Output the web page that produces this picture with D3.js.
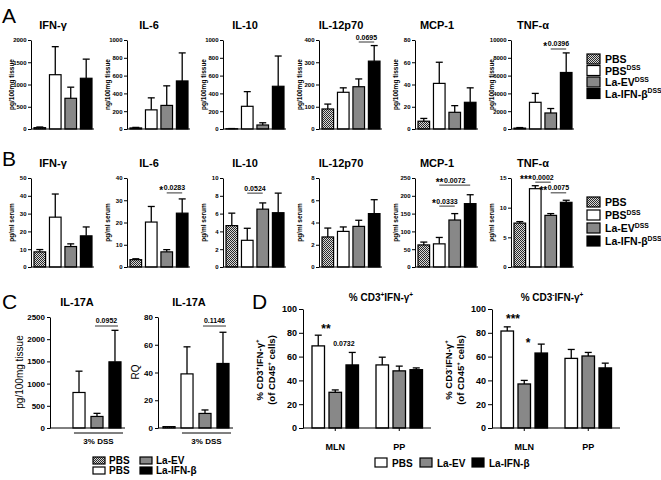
<!DOCTYPE html>
<html><head><meta charset="utf-8">
<script src="https://cdn.jsdelivr.net/npm/d3@7"></script>
<style>body{margin:0;background:#fff}svg{display:block}text{font-family:"Liberation Sans",Arial,sans-serif;-webkit-font-smoothing:antialiased}</style>
</head><body><svg id="c" width="661" height="480"></svg>
<script>
// ---------------- DATA ----------------
const groupsAB = ["PBS", "PBS DSS", "La-EV DSS", "La-IFN-β DSS"];
const legendAB = [["PBS", ""], ["PBS", "DSS"], ["La-EV", "DSS"], ["La-IFN-β", "DSS"]];
const cytokines = ["IFN-γ", "IL-6", "IL-10", "IL-12p70", "MCP-1", "TNF-α"];
const tissueUnits = ["pg/100mg tissue", "ng/100mg tissue", "pg/100mg tissue", "pg/100mg tissue", "pg/100mg tissue", "pg/100mg tissue"];
const tissueMeans = [[30, 1220, 690, 1140], [12, 215, 265, 540], [3, 255, 45, 480], [90, 165, 190, 305], [7, 41, 15, 24], [100, 3000, 1800, 6350]];
const tissueErrs = [[15, 630, 250, 430], [6, 135, 220, 315], [2, 165, 25, 340], [22, 20, 35, 70], [2.5, 19, 6, 13], [60, 1000, 500, 2200]];
const tissueMax = [2000, 1000, 1000, 400, 80, 10000];
const tissueStep = [500, 200, 200, 100, 20, 2000];
const serumUnit = "pg/ml serum";
const serumMeans = [[8.5, 28, 11.5, 17.5], [3.3, 20.2, 6.8, 24.2], [4.65, 3.0, 6.5, 6.1], [2.7, 3.2, 3.65, 4.8], [62, 65, 132, 178], [7.4, 13.2, 8.7, 10.9]];
const serumErrs = [[1.3, 13, 1.5, 5], [0.4, 7, 1, 6.4], [1.4, 1.35, 0.7, 2.2], [0.8, 0.4, 0.55, 1.25], [8, 18, 18, 25], [0.25, 0.5, 0.3, 0.35]];
const serumMax = [50, 40, 10, 8, 250, 15];
const serumStep = [10, 10, 2, 2, 50, 5];
const annotA = [
  {p: 3, i: 2, j: 3, level: 391, stars: "", text: "0.0695"},
  {p: 5, i: 2, j: 3, level: 8990, stars: "*", text: "0.0396"}
];
const annotB = [
  {p: 1, i: 2, j: 3, level: 33.3, stars: "*", text: "0.0283"},
  {p: 2, i: 1, j: 2, level: 8.3, stars: "", text: "0.0524"},
  {p: 4, i: 1, j: 3, level: 230, stars: "**", text: "0.0072"},
  {p: 4, i: 1, j: 2, level: 171, stars: "*", text: "0.0333"},
  {p: 5, i: 1, j: 2, level: 14.3, stars: "***", text: "0.0002"},
  {p: 5, i: 2, j: 3, level: 12.5, stars: "**", text: "0.0075"}
];
// Panel C
const titlesC = ["IL-17A", "IL-17A"];
const unitsC = ["pg/100mg tissue", "RQ"];
const meansC = [[0, 800, 260, 1490], [1, 39, 10.5, 46.5]];
const errsC = [[0, 480, 70, 710], [0.3, 19.5, 2.5, 22.5]];
const maxC = [2500, 80];
const stepC = [500, 20];
const annotC = [{s: 0, i: 2, j: 3, level: 2297, text: "0.0952"}, {s: 1, i: 2, j: 3, level: 73.5, text: "0.1146"}];
const dssLabel = "3% DSS";
const legendC = ["PBS", "PBS", "La-EV", "La-IFN-β"];
// Panel D
const sitesD = ["MLN", "PP"];
const seriesD = ["PBS", "La-EV", "La-IFN-β"];
const meansD = [[[69, 30, 53], [53, 48, 49]], [[81.5, 37, 63], [58.5, 60.5, 50.5]]];
const errsD = [[[9, 2, 10.5], [6.5, 4, 1.5]], [[3.5, 3, 7.5], [7.5, 3, 4]]];
const ticksD = [0, 20, 40, 60, 80, 100];
const annotD = [
  {s: 0, g: 0, b: 0.45, level: 80, text: "**", star: true},
  {s: 0, g: 0, b: 1.51, level: 69.3, text: "0.0732", star: false},
  {s: 1, g: 0, b: 0.34, level: 88.2, text: "***", star: true},
  {s: 1, g: 0, b: 1.22, level: 68, text: "*", star: true}
];

// ---------------- DRAW ----------------
const FONT = '"Liberation Sans", Arial, sans-serif';
const fmt = d3.format("d");
const svg = d3.select("#c");
const defs = svg.append("defs");
const pat = defs.append("pattern").attr("id", "hatch").attr("width", 2).attr("height", 2).attr("patternUnits", "userSpaceOnUse");
pat.append("rect").attr("width", 2).attr("height", 2).attr("fill", "#d8d8d8");
pat.append("rect").attr("width", 1).attr("height", 1).attr("fill", "#2a2a2a");
pat.append("rect").attr("x", 1).attr("y", 1).attr("width", 1).attr("height", 1).attr("fill", "#2a2a2a");
const fills4 = ["url(#hatch)", "#fff", "#888", "#000"];
const fillsD = ["#fff", "#888", "#000"];

function rich(t, segs, fs) {
  let shift = 0;
  segs.forEach(([s, sup]) => {
    const target = sup ? -fs * 0.4 : 0;
    t.append("tspan").attr("dy", target - shift).attr("font-size", sup ? fs * 0.65 : fs).text(s);
    shift = target;
  });
}

function styleAxis(g, fs) {
  g.attr("font-family", FONT).attr("font-size", fs).attr("font-weight", "bold");
  g.select(".domain").attr("stroke", "#000").attr("stroke-width", 1);
  g.selectAll(".tick line").attr("stroke", "#000");
  g.selectAll(".tick text").attr("fill", "#000");
}

function errBars(g, data, xc, y, cap) {
  data.forEach(d => {
    const cx = xc(d);
    g.append("line").attr("x1", cx).attr("x2", cx).attr("y1", y(d.m)).attr("y2", y(d.m + d.e)).attr("stroke", "#000").attr("stroke-width", 1.3);
    g.append("line").attr("x1", cx - cap).attr("x2", cx + cap).attr("y1", y(d.m + d.e)).attr("y2", y(d.m + d.e)).attr("stroke", "#000").attr("stroke-width", 1.3);
  });
}

// Panels A and B
function smallPanel(x0, yTop, yBot, max, step, means, errs, title, titleY, unit) {
  const g = svg.append("g");
  const y = d3.scaleLinear().domain([0, max]).range([yBot, yTop]);
  const x = d3.scaleBand().domain(groupsAB).range([x0 + 3, x0 + 61]).paddingInner(0.25).paddingOuter(0);
  const data = groupsAB.map((k, i) => ({k, i, m: means[i], e: errs[i]}));
  g.selectAll("rect.bar").data(data).join("rect").attr("class", "bar")
    .attr("x", d => x(d.k)).attr("width", x.bandwidth())
    .attr("y", d => y(d.m)).attr("height", d => y(0) - y(d.m))
    .attr("fill", d => fills4[d.i]).attr("stroke", "#000").attr("stroke-width", 1.2);
  errBars(g, data, d => x(d.k) + x.bandwidth() / 2, y, 3.5);
  const ax = g.append("g").attr("transform", `translate(${x0},0)`)
    .call(d3.axisLeft(y).tickValues(d3.range(0, max + step / 2, step)).tickFormat(fmt).tickSize(3).tickSizeOuter(0).tickPadding(1.5));
  styleAxis(ax, 6);
  g.append("line").attr("x1", x0).attr("x2", x0 + 63).attr("y1", y(0)).attr("y2", y(0)).attr("stroke", "#000").attr("stroke-width", 1);
  g.append("text").attr("x", x0 + 22).attr("y", titleY).attr("text-anchor", "middle")
    .attr("font-size", 11).attr("font-weight", "bold").text(title);
  g.append("text").attr("transform", `translate(${x0 - 17},${(yTop + yBot) / 2}) rotate(-90)`)
    .attr("text-anchor", "middle").attr("font-size", 6.5).attr("font-weight", "bold").text(unit);
  return {x, y};
}

function annotate(pan, a) {
  const g = svg.append("g");
  const x1 = pan.x(groupsAB[a.i]) + pan.x.bandwidth() / 2;
  const x2 = pan.x(groupsAB[a.j]) + pan.x.bandwidth() / 2;
  const ly = pan.y(a.level);
  g.append("line").attr("x1", x1).attr("x2", x2).attr("y1", ly).attr("y2", ly).attr("stroke", "#000").attr("stroke-width", 0.8);
  const t = g.append("text").attr("x", (x1 + x2) / 2).attr("y", ly - 2.5).attr("text-anchor", "middle")
    .attr("font-size", 7).attr("font-weight", "bold").text(a.text);
  if (a.stars) {
    const w = t.node().getComputedTextLength();
    g.append("text").attr("x", (x1 + x2) / 2 - w / 2 - 0.5).attr("y", ly + 1).attr("text-anchor", "end")
      .attr("font-size", 10).attr("font-weight", "bold").text(a.stars);
  }
}

function legendAB_(x, y0, dy) {
  legendAB.forEach(([lab, sup], i) => {
    const yy = y0 + i * dy;
    svg.append("rect").attr("x", x).attr("y", yy - 5).attr("width", 13).attr("height", 10)
      .attr("fill", fills4[i]).attr("stroke", "#000").attr("stroke-width", 1.2);
    const t = svg.append("text").attr("x", x + 18).attr("y", yy + 4).attr("font-weight", "bold");
    rich(t, sup ? [[lab, 0], [sup, 1]] : [[lab, 0]], 10.5);
  });
}

const panX = d3.range(6).map(i => 31 + 96 * i);
const panA = cytokines.map((c, i) => smallPanel(panX[i], 40, 129, tissueMax[i], tissueStep[i], tissueMeans[i], tissueErrs[i], c, 29, tissueUnits[i]));
const panB = cytokines.map((c, i) => smallPanel(panX[i], 178, 267, serumMax[i], serumStep[i], serumMeans[i], serumErrs[i], c, 167, serumUnit));
annotA.forEach(a => annotate(panA[a.p], a));
annotB.forEach(a => annotate(panB[a.p], a));
legendAB_(587, 59, 11.5);
legendAB_(587, 202, 13);

// Panel letters
[["A", 2, 23], ["B", 2, 166], ["C", 2, 309], ["D", 252, 309]].forEach(([l, x, y]) =>
  svg.append("text").attr("x", x).attr("y", y).attr("font-size", 21).text(l));

// Panel C
const cX = [50, 158];
const cLabelOff = [27, 19];
const panC = [0, 1].map(s => {
  const x0 = cX[s];
  const g = svg.append("g");
  const y = d3.scaleLinear().domain([0, maxC[s]]).range([428, 317]);
  const x = d3.scaleBand().domain(groupsAB).range([x0 + 5, x0 + 71]).paddingInner(0.33).paddingOuter(0);
  const data = groupsAB.map((k, i) => ({k, i, m: meansC[s][i], e: errsC[s][i]}));
  g.selectAll("rect").data(data.filter(d => d.m > 0)).join("rect")
    .attr("x", d => x(d.k)).attr("width", x.bandwidth())
    .attr("y", d => y(d.m)).attr("height", d => y(0) - y(d.m))
    .attr("fill", d => fills4[d.i]).attr("stroke", "#000").attr("stroke-width", 1.2);
  errBars(g, data.filter(d => d.e > 0 && d.m > 2), d => x(d.k) + x.bandwidth() / 2, y, 3.5);
  const ax = g.append("g").attr("transform", `translate(${x0},0)`)
    .call(d3.axisLeft(y).tickValues(d3.range(0, maxC[s] + stepC[s] / 2, stepC[s])).tickFormat(fmt).tickSize(3).tickSizeOuter(0).tickPadding(2));
  styleAxis(ax, 8);
  g.append("line").attr("x1", x0).attr("x2", x0 + 75).attr("y1", y(0)).attr("y2", y(0)).attr("stroke", "#000");
  // 3% DSS bracket
  const bx1 = x(groupsAB[1]) + 1, bx2 = x(groupsAB[3]) + x.bandwidth() + 2;
  g.append("line").attr("x1", bx1).attr("x2", bx2).attr("y1", 433).attr("y2", 433).attr("stroke", "#000").attr("stroke-width", 1);
  g.append("text").attr("x", (bx1 + bx2) / 2).attr("y", 444).attr("text-anchor", "middle")
    .attr("font-size", 8).attr("font-weight", "bold").text(dssLabel);
  g.append("text").attr("x", [77, 189][s]).attr("y", 306).attr("text-anchor", "middle")
    .attr("font-size", 11).attr("font-weight", "bold").text(titlesC[s]);
  g.append("text").attr("transform", `translate(${x0 - cLabelOff[s]},${372}) rotate(-90)`)
    .attr("text-anchor", "middle").attr("font-size", 10).text(unitsC[s]);
  return {x, y};
});
annotC.forEach(a => {
  const p = panC[a.s];
  const x1 = p.x(groupsAB[a.i]) + p.x.bandwidth() / 2 - 2;
  const x2 = p.x(groupsAB[a.j]) + p.x.bandwidth() / 2 + 3;
  const ly = p.y(a.level);
  svg.append("line").attr("x1", x1).attr("x2", x2).attr("y1", ly).attr("y2", ly).attr("stroke", "#000").attr("stroke-width", 0.8);
  svg.append("text").attr("x", (x1 + x2) / 2).attr("y", ly - 3).attr("text-anchor", "middle")
    .attr("font-size", 7).attr("font-weight", "bold").text(a.text);
});
// Legend C
legendC.forEach((lab, i) => {
  const col = Math.floor(i / 2), row = i % 2;
  const bx = 93 + col * 47, by = 457 + row * 10;
  svg.append("rect").attr("x", bx).attr("y", by).attr("width", 12).attr("height", 7)
    .attr("fill", fills4[i]).attr("stroke", "#000").attr("stroke-width", 1.2);
  svg.append("text").attr("x", bx + 16).attr("y", by + 7).attr("font-size", 10).attr("font-weight", "bold").text(lab);
});

// Panel D
const dX = [303, 492];
const titleD = [[["% CD3", 0], ["+", 1], ["IFN-γ", 0], ["+", 1]], [["% CD3", 0], ["-", 1], ["IFN-γ", 0], ["+", 1]]];
const titleDX = [381, 552];
const panD = [0, 1].map(s => {
  const x0 = dX[s];
  const g = svg.append("g");
  const y = d3.scaleLinear().domain([0, 100]).range([428, 309]);
  const outer = d3.scaleBand().domain(sitesD).range([x0 + 9, x0 + 9 + 128]).paddingInner(0).paddingOuter(0);
  const inner = d3.scaleBand().domain(seriesD).range([0, 46.5]).paddingInner(0.265).paddingOuter(0);
  const data = [];
  sitesD.forEach((site, gi) => seriesD.forEach((ser, si) => data.push({site, ser, si, m: meansD[s][gi][si], e: errsD[s][gi][si]})));
  g.selectAll("rect").data(data).join("rect")
    .attr("x", d => outer(d.site) + inner(d.ser)).attr("width", inner.bandwidth())
    .attr("y", d => y(d.m)).attr("height", d => y(0) - y(d.m))
    .attr("fill", d => fillsD[d.si]).attr("stroke", "#000").attr("stroke-width", 1.3);
  errBars(g, data, d => outer(d.site) + inner(d.ser) + inner.bandwidth() / 2, y, 3.5);
  const ax = g.append("g").attr("transform", `translate(${x0},0)`)
    .call(d3.axisLeft(y).tickValues(ticksD).tickFormat(fmt).tickSize(4).tickSizeOuter(0).tickPadding(2));
  styleAxis(ax, 9);
  g.append("line").attr("x1", x0).attr("x2", x0 + 128).attr("y1", y(0)).attr("y2", y(0)).attr("stroke", "#000").attr("stroke-width", 1.2);
  sitesD.forEach(site => {
    const cx = outer(site) + 23.25;
    g.append("line").attr("x1", cx).attr("x2", cx).attr("y1", y(0)).attr("y2", y(0) + 3).attr("stroke", "#000");
    g.append("text").attr("x", cx).attr("y", 450).attr("text-anchor", "middle").attr("font-size", 9).attr("font-weight", "bold").text(site);
  });
  const tt = g.append("text").attr("x", titleDX[s]).attr("y", 301).attr("text-anchor", "middle").attr("font-weight", "bold");
  rich(tt, titleD[s], 10);
  const l1 = g.append("text").attr("transform", `translate(${x0 - 40},${370}) rotate(-90)`).attr("text-anchor", "middle").attr("font-weight", "bold");
  rich(l1, titleD[s], 9.5);
  const l2 = g.append("text").attr("transform", `translate(${x0 - 28},${370}) rotate(-90)`).attr("text-anchor", "middle").attr("font-weight", "bold");
  rich(l2, [["(of CD45", 0], ["+", 1], [" cells)", 0]], 9.5);
  return {outer, inner, y};
});
annotD.forEach(a => {
  const p = panD[a.s];
  const cx = p.outer(sitesD[a.g]) + p.inner.step() * a.b + p.inner.bandwidth() / 2;
  svg.append("text").attr("x", cx).attr("y", p.y(a.level)).attr("text-anchor", "middle")
    .attr("font-size", a.star ? 12 : 7).attr("font-weight", "bold").attr("fill", "#000").text(a.text);
});
// Legend D
const legDX = [375, 420, 472];
seriesD.forEach((lab, i) => {
  svg.append("rect").attr("x", legDX[i]).attr("y", 458).attr("width", 12).attr("height", 9)
    .attr("fill", fillsD[i]).attr("stroke", "#000").attr("stroke-width", 1.2);
  svg.append("text").attr("x", legDX[i] + 17).attr("y", 467).attr("font-size", 10).attr("font-weight", "bold").text(lab);
});
</script></body></html>
